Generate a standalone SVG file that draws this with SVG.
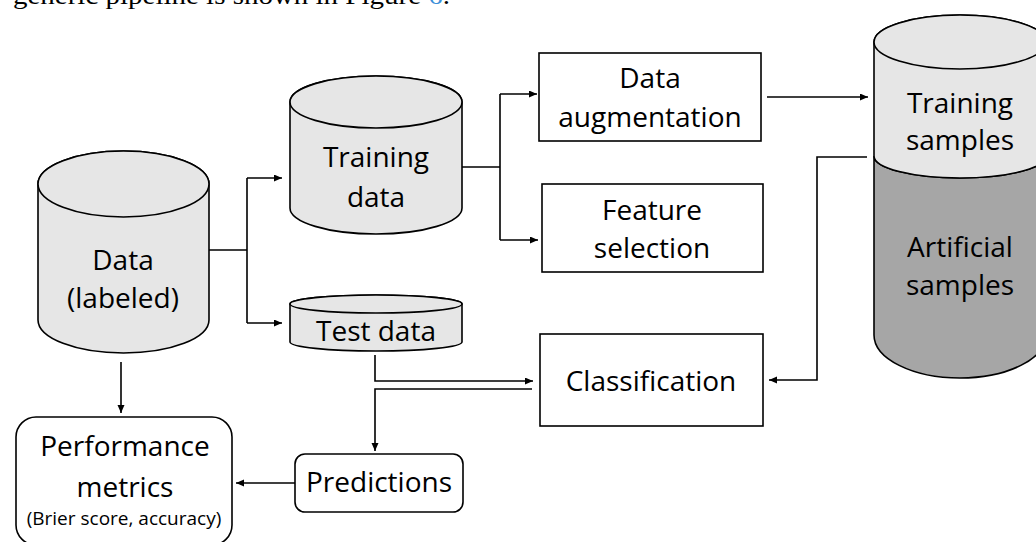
<svg xmlns="http://www.w3.org/2000/svg" width="1036" height="542" viewBox="0 0 1036 542">
<defs>
<style>
.t{font-family:"Open Sans","Noto Sans",sans-serif;font-size:28px;fill:#000;text-anchor:middle}
.s{font-family:"Open Sans","Noto Sans",sans-serif;font-size:19px;fill:#000;text-anchor:middle}
.box{fill:#fff;stroke:#000;stroke-width:1.6}
.cyl{fill:#e6e6e6;stroke:#000;stroke-width:1.6}
.dark{fill:#a6a6a6;stroke:#000;stroke-width:1.6}
.ln{fill:none;stroke:#000;stroke-width:1.6}
.ar{fill:none;stroke:#000;stroke-width:1.6;marker-end:url(#ah)}
</style>
<marker id="ah" markerUnits="userSpaceOnUse" markerWidth="9" markerHeight="8" refX="8" refY="3.5" orient="auto">
<path d="M0,0 L8,3.5 L0,7 z" fill="#000"/>
</marker>
</defs>
<rect width="1036" height="542" fill="#fff"/>
<text x="13" y="4" font-family="Liberation Serif, serif" font-size="26" textLength="437" lengthAdjust="spacingAndGlyphs" fill="#000">generic pipeline is shown in Figure <tspan fill="#3a8fd9">6</tspan>.</text>

<g id="connectors">
<path class="ln" d="M209,250 H247 M247,178 V323"/>
<path class="ar" d="M247,178 H282"/>
<path class="ar" d="M247,323 H282"/>
<path class="ln" d="M462,167 H500 M500,94 V240"/>
<path class="ar" d="M500,94 H537"/>
<path class="ar" d="M500,240 H538"/>
<path class="ar" d="M767,97 H868"/>
<path class="ar" d="M867,157 H817 V380 H769"/>
<path class="ar" d="M375,355 V381 H533"/>
<path class="ar" d="M532,389 H375 V451"/>
<path class="ar" d="M295,483 H236"/>
<path class="ar" d="M121,362 V413"/>
</g>

<g id="data">
<path class="cyl" d="M38,184 V320 A85.5,33 0 0 0 209,320 V184 A85.5,33 0 0 0 38,184 Z"/>
<ellipse class="cyl" cx="123.5" cy="184" rx="85.5" ry="33"/>
<text class="t" x="123" y="270">Data</text>
<text class="t" x="123" y="308">(labeled)</text>
</g>

<g id="training-data">
<path class="cyl" d="M290,102 V208 A86,26 0 0 0 462,208 V102 A86,26 0 0 0 290,102 Z"/>
<ellipse class="cyl" cx="376" cy="102" rx="86" ry="26"/>
<text class="t" x="376" y="167">Training</text>
<text class="t" x="376" y="207">data</text>
</g>

<g id="test-data">
<path class="cyl" d="M290,304 V342 A86,9 0 0 0 462,342 V304 A86,9 0 0 0 290,304 Z"/>
<ellipse class="cyl" cx="376" cy="304" rx="86" ry="9"/>
<text class="t" x="376" y="341">Test data</text>
</g>

<g id="data-augmentation">
<rect class="box" x="539" y="53" width="222" height="88"/>
<text class="t" x="650" y="88">Data</text>
<text class="t" x="650" y="127">augmentation</text>
</g>

<g id="feature-selection">
<rect class="box" x="542" y="184" width="221" height="88"/>
<text class="t" x="652" y="220">Feature</text>
<text class="t" x="652" y="258">selection</text>
</g>

<g id="classification">
<rect class="box" x="540" y="334" width="223" height="92"/>
<text class="t" x="651" y="391">Classification</text>
</g>

<g id="samples">
<path class="dark" d="M874,156 V335 A86,43 0 0 0 1046,335 V156 A86,22 0 0 1 874,156 Z"/>
<path class="cyl" d="M874,42 V156 A86,22 0 0 0 1046,156 V42 A86,27 0 0 0 874,42 Z"/>
<ellipse class="cyl" cx="960" cy="42" rx="86" ry="27"/>
<text class="t" x="960" y="113">Training</text>
<text class="t" x="960" y="150">samples</text>
<text class="t" x="960" y="257">Artificial</text>
<text class="t" x="960" y="295">samples</text>
</g>

<g id="predictions">
<rect class="box" x="295" y="454" width="168" height="58" rx="10"/>
<text class="t" x="379" y="492">Predictions</text>
</g>

<g id="performance-metrics">
<rect class="box" x="16" y="417" width="216" height="128" rx="20"/>
<text class="t" x="125" y="456">Performance</text>
<text class="t" x="125" y="497">metrics</text>
<text class="s" x="124" y="525">(Brier score, accuracy)</text>
</g>
</svg>
